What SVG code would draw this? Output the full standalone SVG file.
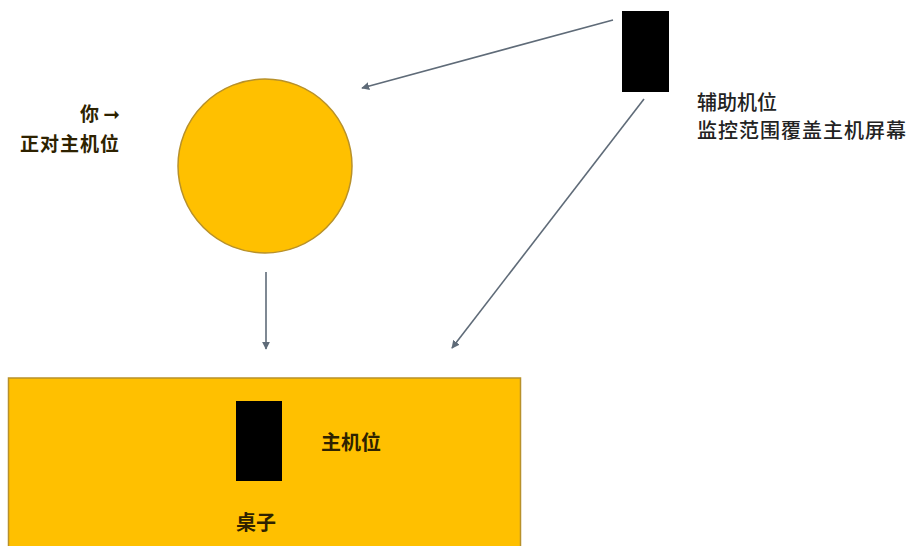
<svg xmlns="http://www.w3.org/2000/svg" width="910" height="546" viewBox="0 0 910 546">
<defs>
<style>
.t{font-family:"Noto Sans CJK SC","Noto Sans",sans-serif;fill:#222;font-weight:500;}
.d{font-family:"Noto Sans CJK SC","Noto Sans",sans-serif;fill:#2e2200;font-weight:bold;}
.c{stroke:#5f6b78;stroke-width:1.6;fill:none;}
.y{fill:#FFC000;stroke:#b8912a;stroke-width:1.5;}
.b{fill:#000;}
</style>
<marker id="ah" viewBox="0 0 10 10" refX="9" refY="5" markerWidth="8" markerHeight="8" orient="auto" markerUnits="userSpaceOnUse">
<path d="M0,0 L10,5 L0,10 z" fill="#5f6b78"/>
</marker>
</defs>
<rect width="910" height="546" fill="#fff"/>
<g id="desk">
<rect class="y" x="8.5" y="378" width="512" height="170"/>
<text class="d" x="236" y="530" font-size="20">桌子</text>
</g>
<g id="main-camera">
<rect class="b" x="236" y="401" width="46" height="80"/>
<text class="d" x="321" y="450" font-size="20">主机位</text>
</g>
<g id="you">
<circle class="y" cx="265" cy="166" r="87"/>
<text class="d" x="120" y="121" font-size="19" text-anchor="end" fill="#222">你 <tspan font-family="DejaVu Sans" font-size="20">➞</tspan></text>
<text class="d" x="120" y="151" font-size="19" text-anchor="end" letter-spacing="1" fill="#222">正对主机位</text>
</g>
<g id="aux-camera">
<rect class="b" x="622" y="11" width="47" height="81"/>
<text class="t" x="697" y="110" font-size="20">辅助机位</text>
<text class="t" x="697" y="138" font-size="20" letter-spacing="1">监控范围覆盖主机屏幕</text>
</g>
<g id="connectors">
<line class="c" x1="613" y1="20" x2="362" y2="88" marker-end="url(#ah)"/>
<line class="c" x1="644" y1="99" x2="452" y2="348" marker-end="url(#ah)"/>
<line class="c" x1="266" y1="272" x2="266" y2="349" marker-end="url(#ah)"/>
</g>
</svg>
